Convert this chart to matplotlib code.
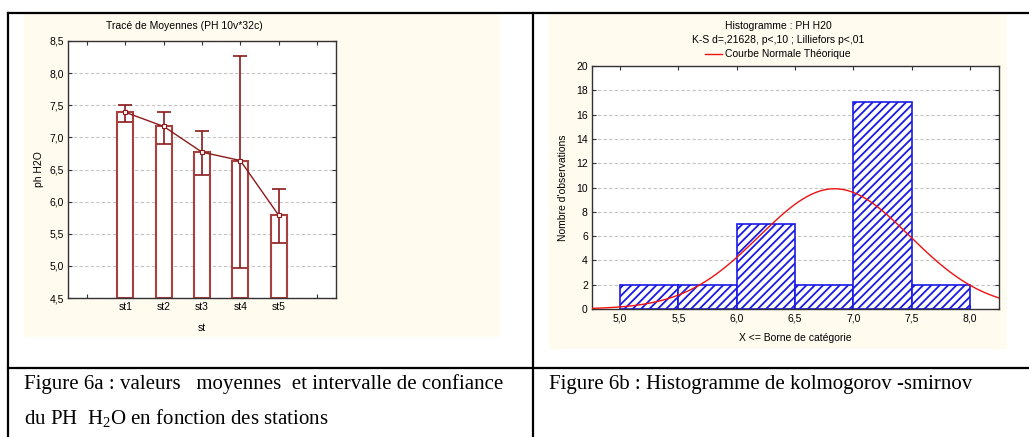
import numpy as np
import matplotlib
matplotlib.use("Agg")
import matplotlib.pyplot as plt
from matplotlib.lines import Line2D
from matplotlib.patches import Rectangle

# ---- data: figure 6a (moyennes et intervalle de confiance)
stations = ["st1", "st2", "st3", "st4", "st5"]
moyennes = [7.39, 7.17, 6.77, 6.64, 5.79]
ic_bas = [7.24, 6.90, 6.42, 4.97, 5.36]
ic_haut = [7.51, 7.39, 7.10, 8.27, 6.20]

# ---- data: figure 6b (histogramme)
bornes = [5.0, 5.5, 6.0, 6.5, 7.0, 7.5, 8.0]
effectifs = [2, 2, 7, 2, 17, 2]
n_obs = 32
moy_pH = 6.84
et_pH = 0.645

plt.rcParams['font.family'] = ['Liberation Sans', 'DejaVu Sans']
plt.rcParams['hatch.linewidth'] = 1.3

W, H = 1029, 437
fig = plt.figure(figsize=(W / 100, H / 100), dpi=100)


def box(x0, y0, x1, y1):
    # pixel box (top-left origin) -> figure rect
    return [x0 / W, 1 - y1 / H, (x1 - x0) / W, (y1 - y0) / H]


def fx(x):
    return x / W


def fy(y):
    return 1 - y / H


# fond crème des deux panneaux
for x0, y0, x1, y1 in [(24, 14, 500, 337), (549, 14, 1007, 349)]:
    fig.patches.append(Rectangle((fx(x0), fy(y1)), (x1 - x0) / W, (y1 - y0) / H,
                                 transform=fig.transFigure, facecolor='#fffbef',
                                 edgecolor='none', zorder=-5))

# traits du tableau
for xs, ys in [((8, 1029), (13, 13)), ((8, 1029), (368, 368)),
               ((8, 8), (13, 437)), ((533, 533), (13, 437))]:
    fig.add_artist(Line2D([fx(v) for v in xs], [fy(v) for v in ys],
                          transform=fig.transFigure, color='black', lw=1.6))

dark_red = '#8b1a1a'
tick_fs = 7.5


def style_axes(ax):
    ax.set_facecolor('white')
    ax.set_zorder(2)
    for s in ax.spines.values():
        s.set_color('#333333')
        s.set_linewidth(1.0)
    ax.tick_params(direction='in', top=True, right=True, length=3,
                   labelsize=tick_fs, color='#333333', pad=3)
    ax.yaxis.grid(True, color='#c4c4c4', linestyle=(0, (3, 2)), lw=0.8)
    ax.set_axisbelow(True)


# ---------------- Figure 6a
ax1 = fig.add_axes(box(68, 41, 336, 298))
style_axes(ax1)
pos = np.arange(1, len(stations) + 1)
ax1.bar(pos, np.array(moyennes) - 4.5, bottom=4.5, width=0.42, facecolor='white',
        edgecolor='#a84040', linewidth=1.5, zorder=2)
err = [np.array(moyennes) - np.array(ic_bas), np.array(ic_haut) - np.array(moyennes)]
ax1.errorbar(pos, moyennes, yerr=err, fmt='none', ecolor=dark_red, elinewidth=1.2,
             capsize=5, capthick=1.2, zorder=3)
ax1.plot(pos, moyennes, color=dark_red, lw=1.0, marker='s', ms=3,
         mfc='white', mec=dark_red, mew=0.8, zorder=4)
ax1.set_xlim(-0.5, 6.5)
ax1.set_ylim(4.5, 8.5)
ax1.set_xticks(np.arange(0, 7))
ax1.set_xticklabels([""] + stations + [""])
yt = np.arange(4.5, 8.51, 0.5)
ax1.set_yticks(yt)
ax1.set_yticklabels([f"{v:.1f}".replace('.', ',') for v in yt])
ax1.set_ylabel("ph H2O", fontsize=7.5, labelpad=4)
ax1.set_xlabel("st", fontsize=7.5, labelpad=8)
fig.text(fx(184), fy(26), "Tracé de Moyennes (PH 10v*32c)", ha='center', va='center',
         fontsize=7.5)

# ---------------- Figure 6b
ax2 = fig.add_axes(box(592, 66, 999, 309))
style_axes(ax2)
largeurs = np.diff(bornes)
ax2.bar(bornes[:-1], effectifs, width=largeurs, align='edge', facecolor='white',
        edgecolor='#1a1ae6', hatch='////', linewidth=1.2, zorder=2)
xs = np.linspace(4.76, 8.25, 300)
courbe = n_obs * 0.5 / (et_pH * np.sqrt(2 * np.pi)) * np.exp(-0.5 * ((xs - moy_pH) / et_pH) ** 2)
ax2.plot(xs, courbe, color='#ee1111', lw=1.0, zorder=3)
ax2.set_xlim(4.76, 8.25)
ax2.set_ylim(0, 20)
ax2.set_xticks(bornes)
ax2.set_xticklabels([f"{v:.1f}".replace('.', ',') for v in bornes])
ax2.set_yticks(np.arange(0, 21, 2))
ax2.set_ylabel("Nombre d'observations", fontsize=7.5, labelpad=6)
ax2.set_xlabel("X <= Borne de catégorie", fontsize=7.5, labelpad=7)

fig.text(fx(778), fy(26), "Histogramme : PH H20", ha='center', va='center', fontsize=7.5)
fig.text(fx(778), fy(40), "K-S d=,21628, p<,10 ; Lilliefors p<,01", ha='center',
         va='center', fontsize=7.5)
fig.add_artist(Line2D([fx(705), fx(722)], [fy(54), fy(54)], transform=fig.transFigure,
                      color='#ee1111', lw=1.0))
fig.text(fx(725), fy(54), "Courbe Normale Théorique", ha='left', va='center', fontsize=7.5)

# ---------------- légendes du tableau
serif = ['Liberation Serif', 'DejaVu Serif']
cap_fs = 15.0
fig.text(fx(24), fy(384), "Figure 6a : valeurs   moyennes  et intervalle de confiance",
         family=serif, fontsize=cap_fs, ha='left', va='center')
fig.text(fx(24), fy(419), r"du PH  H$_{\mathregular{2}}$O en fonction des stations",
         family=serif, fontsize=cap_fs, ha='left', va='center')
fig.text(fx(549), fy(384), "Figure 6b : Histogramme de kolmogorov -smirnov",
         family=serif, fontsize=cap_fs, ha='left', va='center')

fig.savefig("out.png", dpi=100)
